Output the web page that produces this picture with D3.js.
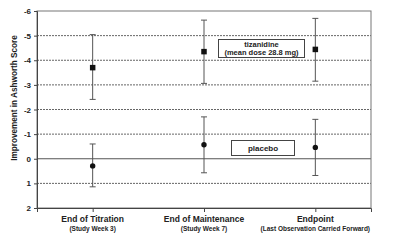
<!DOCTYPE html>
<html>
<head>
<meta charset="utf-8">
<script src="https://cdn.jsdelivr.net/npm/d3@7"></script>
<style>
  body { margin: 0; background: #fff; }
  text { font-family: "Liberation Sans", Arial, sans-serif; fill: #222; }
</style>
</head>
<body>
<div id="chart"></div>
<script>
// categories and tick labels
var categories = ["End of Titration", "End of Maintenance", "Endpoint"]
var subLabels = ["(Study Week 3)", "(Study Week 7)", "(Last Observation Carried Forward)"]
var yTicks = [-6, -5, -4, -3, -2, -1, 0, 1, 2]

// tizanidine: mean and error bar ends
var tizMean = [-3.70, -4.35, -4.44]
var tizLow = [-2.41, -3.06, -3.15]
var tizHigh = [-5.04, -5.63, -5.70]

// placebo
var plaMean = [0.29, -0.57, -0.46]
var plaLow = [1.14, 0.57, 0.68]
var plaHigh = [-0.60, -1.70, -1.60]

var width = 400, height = 247
var margin = {top: 11, right: 29, bottom: 39, left: 37}
var chartWidth = width - margin.left - margin.right
var chartHeight = height - margin.top - margin.bottom

var svg = d3.select('#chart').append('svg')
    .attr('width', width)
    .attr('height', height)

var chartGroup = svg.append('g')
    .attr('transform', `translate(${margin.left}, ${margin.top})`)

var xScale = d3.scalePoint()
    .domain(categories)
    .range([0, chartWidth])
    .padding(0.5)

var yScale = d3.scaleLinear()
    .domain([-6, 2])
    .range([0, chartHeight])

// gridlines: dashed, zero is solid
chartGroup.selectAll('.grid')
    .data(yTicks.filter(d => d !== -6 && d !== 2))
    .enter()
    .append('line')
    .attr('x1', 0).attr('x2', chartWidth)
    .attr('y1', d => yScale(d)).attr('y2', d => yScale(d))
    .attr('stroke', d => d === 0 ? '#555' : '#666')
    .attr('stroke-width', 1)
    .attr('stroke-dasharray', d => d === 0 ? null : '2,1')

// frame
chartGroup.append('rect')
    .attr('x', 0).attr('y', 0)
    .attr('width', chartWidth).attr('height', chartHeight)
    .attr('fill', 'none')
    .attr('stroke', '#777')
    .attr('stroke-width', 1)

// y axis
var leftAxis = d3.axisLeft(yScale)
    .tickValues(yTicks)
    .tickSize(3)
    .tickFormat(d => String(d))
var yAxis = chartGroup.append('g').call(leftAxis)
yAxis.select('.domain').attr('stroke', '#444')
yAxis.selectAll('.tick line').attr('stroke', '#444')
yAxis.selectAll('text')
    .attr('font-size', '8px')
    .attr('font-weight', 'bold')
    .attr('fill', '#333')
    .attr('font-family', '"Liberation Sans", Arial, sans-serif')

// x axis
var bottomAxis = d3.axisBottom(xScale).tickSize(4).tickFormat('')
var xAxis = chartGroup.append('g')
    .attr('transform', `translate(0, ${chartHeight})`)
    .call(bottomAxis)
xAxis.select('.domain').attr('stroke', '#444')
xAxis.selectAll('.tick line').attr('stroke', '#444')

chartGroup.selectAll('.xlab')
    .data(categories)
    .enter()
    .append('text')
    .attr('x', d => xScale(d))
    .attr('y', chartHeight + 14)
    .attr('text-anchor', 'middle')
    .attr('font-size', '8.5px')
    .attr('font-weight', 'bold')
    .attr('fill', '#333')
    .text(d => d)

chartGroup.selectAll('.xsub')
    .data(subLabels)
    .enter()
    .append('text')
    .attr('x', (d, i) => xScale(categories[i]))
    .attr('y', chartHeight + 23)
    .attr('text-anchor', 'middle')
    .attr('font-size', '6.5px')
    .attr('font-weight', 'bold')
    .attr('fill', '#333')
    .text(d => d)

// y title
svg.append('text')
    .attr('transform', 'translate(17, 98) rotate(-90)')
    .attr('text-anchor', 'middle')
    .attr('font-size', '8.2px')
    .attr('font-weight', 'bold')
    .attr('fill', '#333')
    .text('Improvement in Ashworth Score')

// error bars
function drawSeries(mean, low, high, shape) {
    var rows = categories.map((c, i) => ({c: c, m: mean[i], lo: low[i], hi: high[i]}))
    var g = chartGroup.append('g')
    g.selectAll('.stem').data(rows).enter().append('line')
        .attr('x1', d => xScale(d.c)).attr('x2', d => xScale(d.c))
        .attr('y1', d => yScale(d.lo)).attr('y2', d => yScale(d.hi))
        .attr('stroke', '#555').attr('stroke-width', 1)
    g.selectAll('.capl').data(rows).enter().append('line')
        .attr('x1', d => xScale(d.c) - 3).attr('x2', d => xScale(d.c) + 3)
        .attr('y1', d => yScale(d.lo)).attr('y2', d => yScale(d.lo))
        .attr('stroke', '#555').attr('stroke-width', 1)
    g.selectAll('.caph').data(rows).enter().append('line')
        .attr('x1', d => xScale(d.c) - 3).attr('x2', d => xScale(d.c) + 3)
        .attr('y1', d => yScale(d.hi)).attr('y2', d => yScale(d.hi))
        .attr('stroke', '#555').attr('stroke-width', 1)
    if (shape === 'square') {
        g.selectAll('.pt').data(rows).enter().append('rect')
            .attr('x', d => xScale(d.c) - 2.75).attr('y', d => yScale(d.m) - 2.75)
            .attr('width', 5.5).attr('height', 5.5)
            .attr('fill', '#111')
    } else {
        g.selectAll('.pt').data(rows).enter().append('circle')
            .attr('cx', d => xScale(d.c)).attr('cy', d => yScale(d.m))
            .attr('r', 2.7)
            .attr('fill', '#111')
    }
}
drawSeries(tizMean, tizLow, tizHigh, 'square')
drawSeries(plaMean, plaLow, plaHigh, 'circle')

// labels in boxes
var tizBox = svg.append('g')
tizBox.append('rect')
    .attr('x', 218.5).attr('y', 39.5).attr('width', 86).attr('height', 18)
    .attr('fill', '#fff').attr('stroke', '#444')
tizBox.append('text').attr('x', 261.5).attr('y', 47)
    .attr('text-anchor', 'middle').attr('font-size', '7.5px').attr('font-weight', 'bold')
    .text('tizanidine')
tizBox.append('text').attr('x', 261.5).attr('y', 55)
    .attr('text-anchor', 'middle').attr('font-size', '7.5px').attr('font-weight', 'bold')
    .text('(mean dose 28.8 mg)')

var plaBox = svg.append('g')
plaBox.append('rect')
    .attr('x', 231.5).attr('y', 140.5).attr('width', 63).attr('height', 15)
    .attr('fill', '#fff').attr('stroke', '#444')
plaBox.append('text').attr('x', 263).attr('y', 151)
    .attr('text-anchor', 'middle').attr('font-size', '8px').attr('font-weight', 'bold')
    .text('placebo')
</script>
</body>
</html>
